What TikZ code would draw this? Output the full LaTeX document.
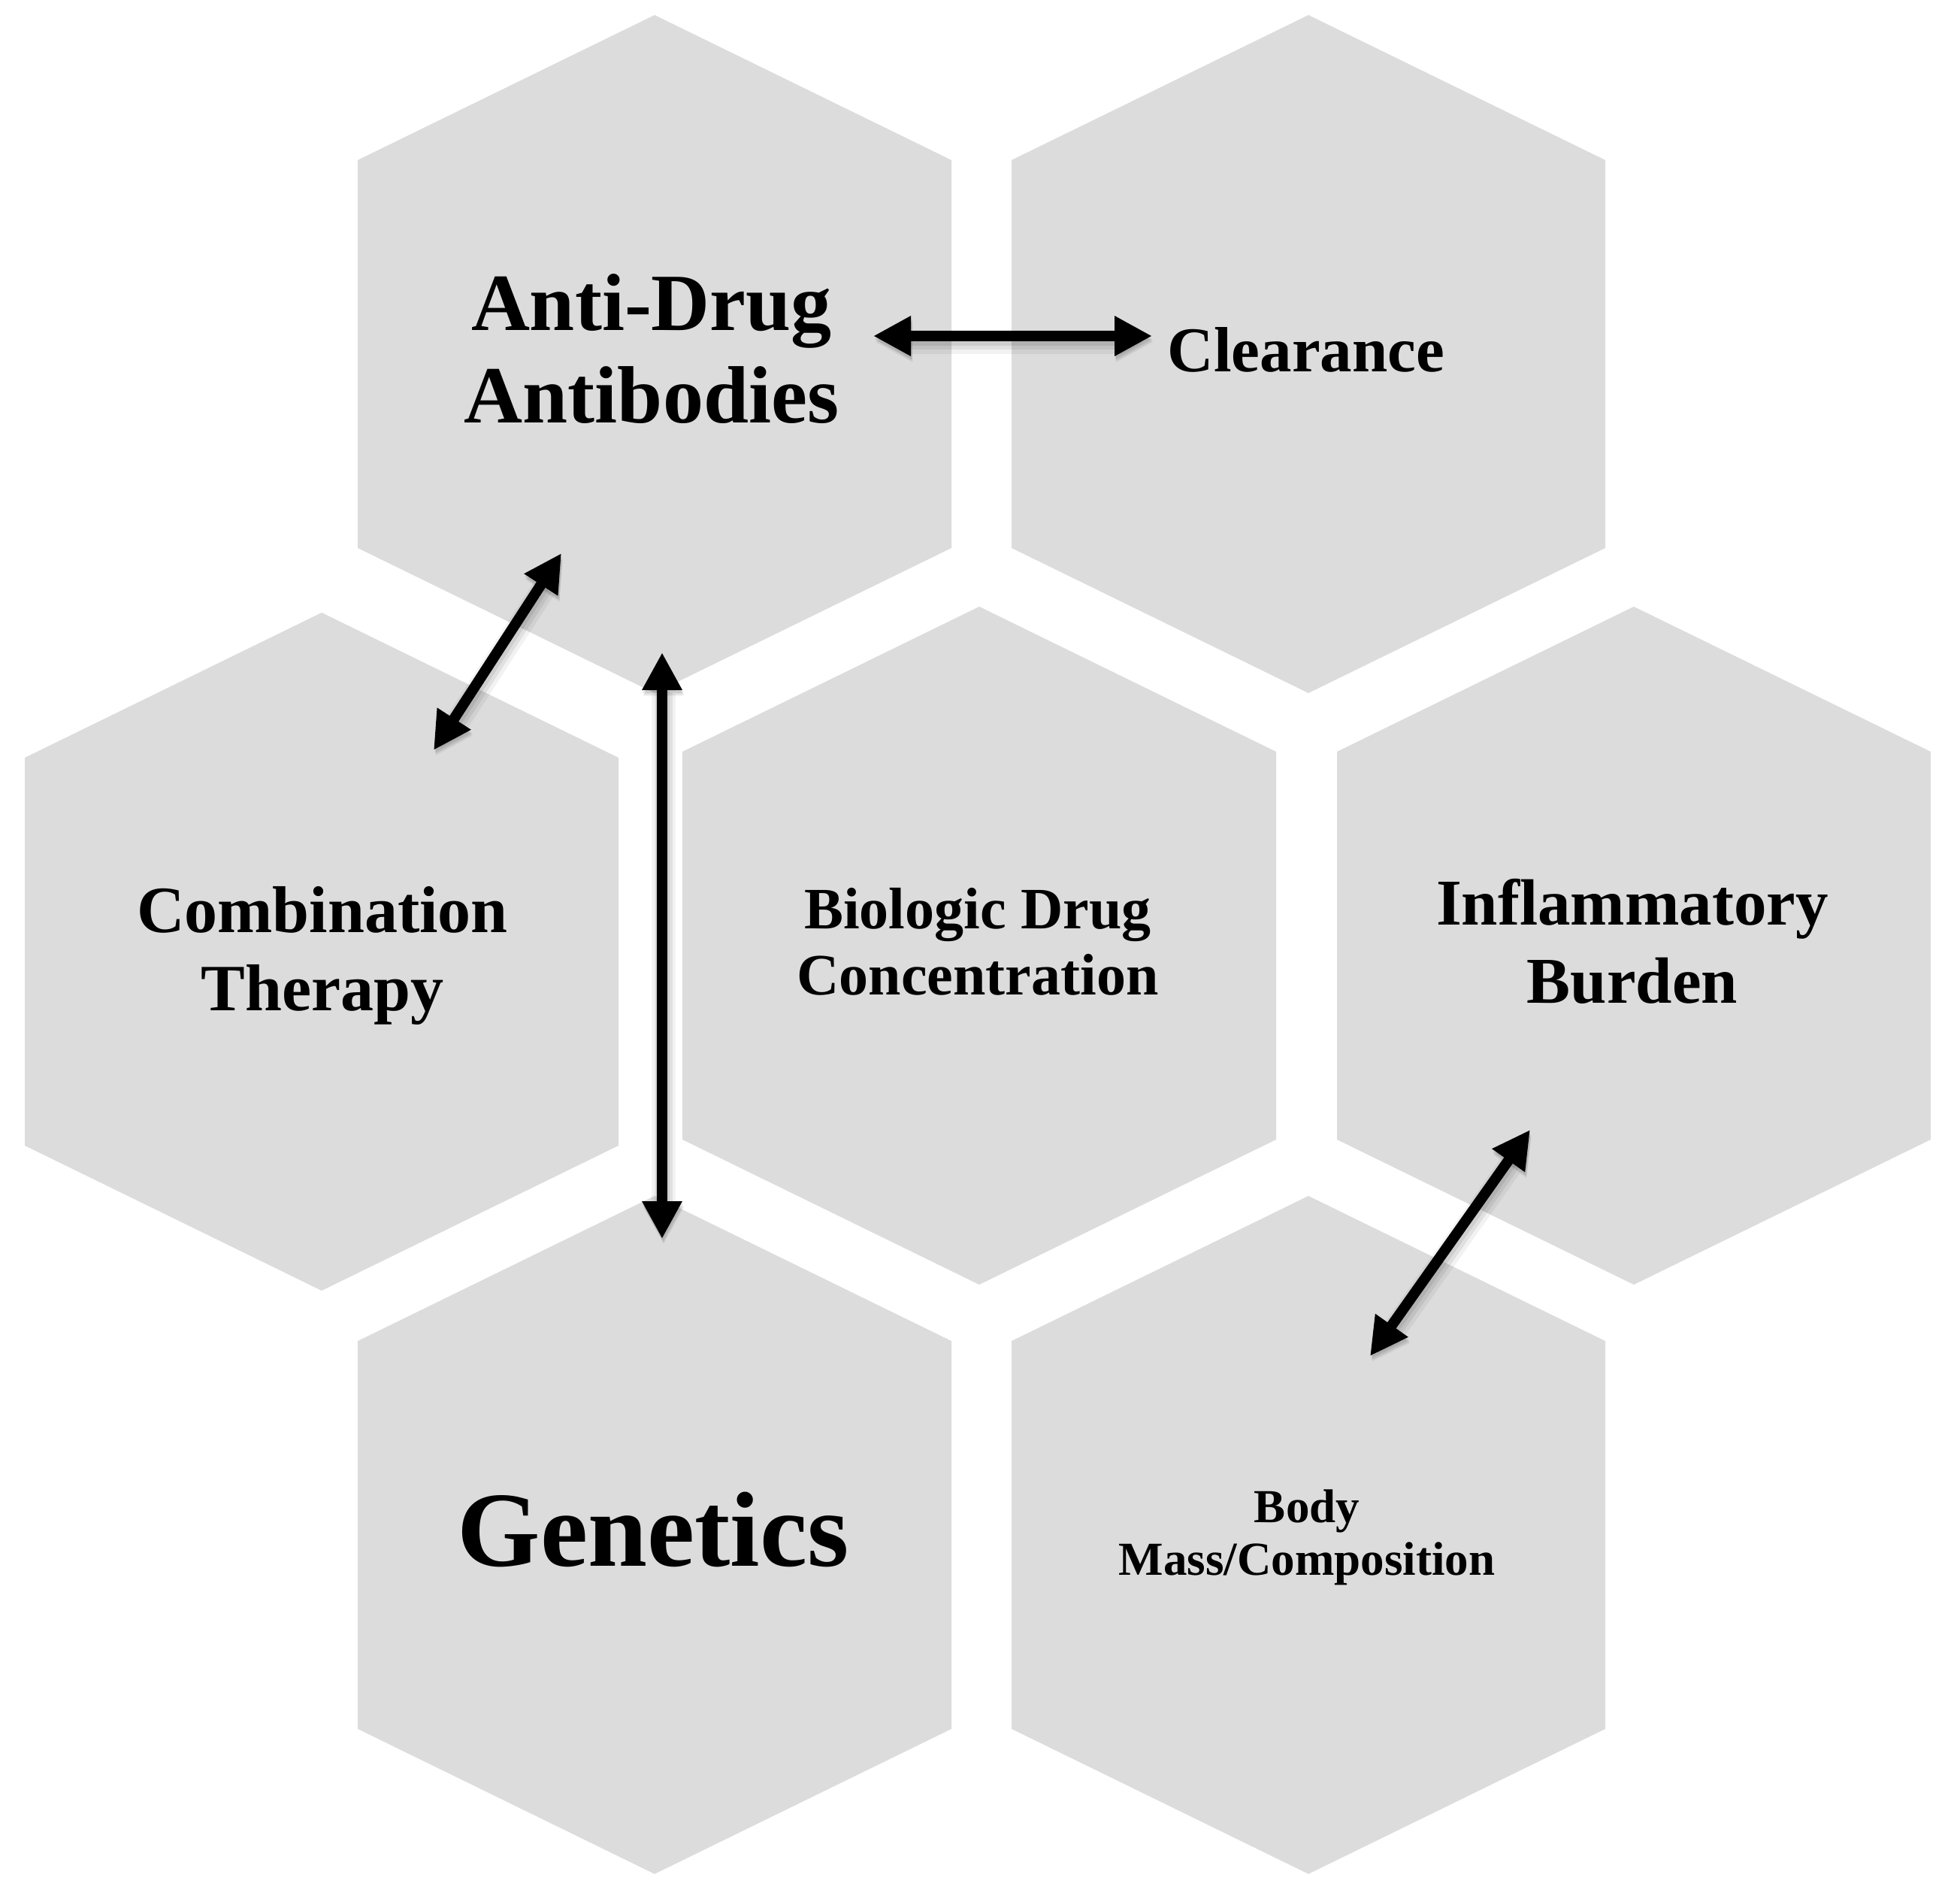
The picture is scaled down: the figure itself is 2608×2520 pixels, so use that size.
\documentclass[tikz,border=0pt]{standalone}
\usepackage{fontspec}
\setmainfont{Liberation Serif}
\usetikzlibrary{arrows.meta}
\definecolor{hexgray}{RGB}{220,220,220}
\newcommand\hexcell[2]{\fill[hexfill] (#1,#2) ++(0,-451) -- ++(395,193) -- ++(0,516) -- ++(-395,193) -- ++(-395,-193) -- ++(0,-516) -- cycle;}
\newcommand\twolines[2]{\begin{tabular}[t]{@{}c@{}}#1\\#2\end{tabular}}
\tikzset{
  hexfill/.style={fill=hexgray},
  lbl/.style={anchor=base, inner sep=0pt, text=black},
  biarrow/.style={line width=14pt,
    {Triangle[length=50pt,width=50pt]}-{Triangle[length=50pt,width=50pt]},
    preaction={draw=black, opacity=0.05, line width=32pt, transform canvas={shift={(2,8)}}},
    preaction={draw=black, opacity=0.07, line width=24pt, transform canvas={shift={(2,6)}}},
    preaction={draw=black, opacity=0.08, line width=18pt, transform canvas={shift={(1,4)}}}}
}
\begin{document}
\begin{tikzpicture}[x=1pt,y=-1pt]
\fill[white] (0,0) rectangle (2608,2520);
\useasboundingbox (0,0) rectangle (2608,2520);
% hexagons
\hexcell{871}{471}
\hexcell{1741}{471}
\hexcell{428}{1266}
\hexcell{1303}{1258}
\hexcell{2174}{1258}
\hexcell{871}{2042}
\hexcell{1741}{2042}
% labels
\node[lbl, font=\bfseries\fontsize{108}{123}\selectfont] (ada) at (867,439) {\twolines{Anti-Drug}{Antibodies}};
\node[lbl, font=\bfseries\fontsize{85}{104}\selectfont] (clr) at (1738,494) {Clearance};
\node[lbl, font=\bfseries\fontsize{88}{104}\selectfont] (cmb) at (429,1240) {\twolines{Combination}{Therapy}};
\node[lbl, font=\bfseries\fontsize{78}{88}\selectfont] (bio) at (1301,1235) {\twolines{Biologic Drug}{Concentration}};
\node[lbl, font=\bfseries\fontsize{87}{104}\selectfont] (inf) at (2172,1230) {\twolines{Inflammatory}{Burden}};
\node[lbl, font=\bfseries\fontsize{142}{160}\selectfont] (gen) at (869,2083) {Genetics};
\node[lbl, font=\bfseries\fontsize{63}{70}\selectfont] (bdy) at (1739,2025) {\twolines{Body}{Mass/Composition}};
% arrow ends
\coordinate (adaR) at (1162,447);
\coordinate (clrL) at (1533,447);
\coordinate (adaB) at (747,736);
\coordinate (cmbT) at (577,998);
\coordinate (adaV) at (881,868);
\coordinate (genT) at (881,1648);
\coordinate (infB) at (2036,1503);
\coordinate (bdyT) at (1823,1804);
% connectors
\draw[biarrow] (adaR) -- (clrL);
\draw[biarrow] (cmbT) -- (adaB);
\draw[biarrow] (adaV) -- (genT);
\draw[biarrow] (bdyT) -- (infB);
\end{tikzpicture}
\end{document}
